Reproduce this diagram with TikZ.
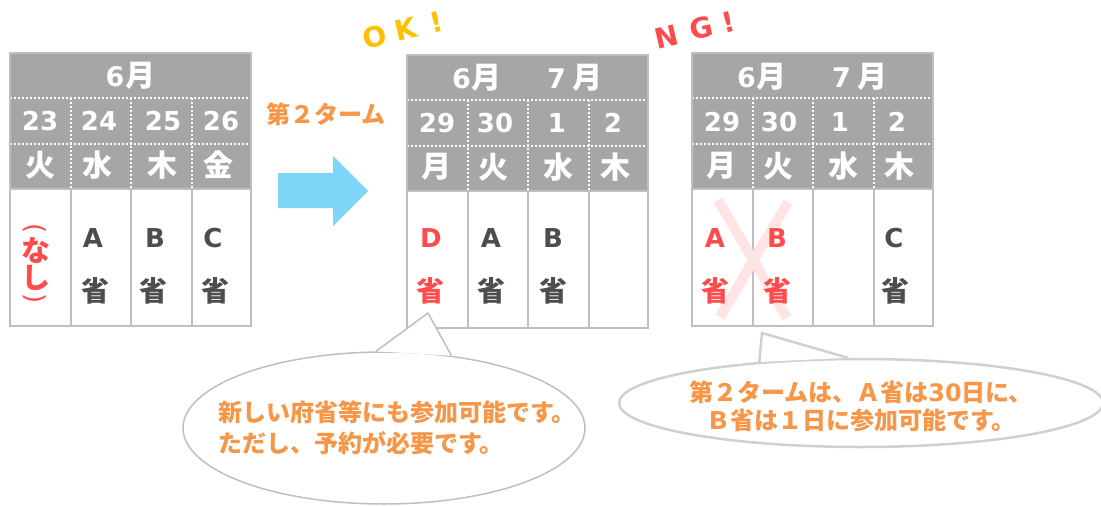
\documentclass[tikz,border=0pt]{standalone}
\usepackage{fontspec}
\setmainfont{DejaVu Sans}
\newfontfamily\jpfam{Noto Sans CJK JP}
\newfontfamily\latfam{DejaVu Sans}
\newcommand\jpf[1]{\jpfam\bfseries\fontsize{#1}{#1}\selectfont}
\newcommand\latf[1]{\latfam\bfseries\fontsize{#1}{#1}\selectfont}
\usetikzlibrary{shapes.geometric}
\definecolor{hdgray}{HTML}{A6A6A6}
\definecolor{gridgray}{HTML}{BFBFBF}
\definecolor{txtdark}{HTML}{4D4D4D}
\definecolor{redc}{HTML}{FF4B4B}
\definecolor{orangec}{HTML}{F79646}
\definecolor{yellowc}{HTML}{FFC000}
\definecolor{arrowblue}{HTML}{7DD6F6}
\definecolor{xpink}{HTML}{FFE4E4}
\definecolor{call2gray}{HTML}{D0D0D0}
\tikzset{
  wdot/.style={draw=white, line width=1.5pt, dash pattern=on 2pt off 2pt},
  gridline/.style={draw=gridgray, line width=2pt},
  hdnum/.style={text=white, font=\latf{26}, inner sep=0pt},
  hdjp/.style={text=white, font=\jpf{30}, inner sep=0pt},
  bodylat/.style={text=txtdark, font=\latf{26}, inner sep=0pt},
  bodyjp/.style={text=txtdark, font=\jpf{28}, inner sep=0pt},
  redt/.style={text=redc},
  calltxt/.style={text=orangec, font=\jpf{24}, inner sep=0pt},
  callshape/.style={ellipse, draw=gridgray, fill=white, line width=1.5pt, inner sep=0pt},
  paren/.style={text=redc, font=\latfam\fontsize{26}{26}\selectfont, inner sep=0pt, rotate=-90},
  shout/.style={font=\latf{28}, rotate=13, inner sep=0pt},
}
\newcommand\caltable[2]{%
  \begin{scope}[shift={(#1,#2)}]
    \fill[hdgray] (0,0) rectangle (241,136);
    \fill[white] (0,136) rectangle (241,273);
    \draw[wdot] (0,45) -- (241,45);
    \draw[wdot] (0,91) -- (241,91);
    \foreach \xx in {61,121,182} {
      \draw[wdot] (\xx,45) -- (\xx,136);
      \draw[gridline] (\xx,136) -- (\xx,273);
    }
    \draw[gridline] (0,136) -- (241,136);
    \draw[gridline] (0,0) rectangle (241,273);
  \end{scope}}
\begin{document}
\begin{tikzpicture}[x=1pt, y=-1pt]
\fill[white] (0,0) rectangle (1101,506);
\useasboundingbox (0,0) rectangle (1101,506);

% ---------- tables ----------
\caltable{10}{53}
\caltable{407}{55}
\caltable{692}{53}

% X mark
\draw[xpink, line width=10pt] (718,200) -- (787,318);
\draw[xpink, line width=10pt] (788,202) -- (720,317);

% ---------- left table texts ----------
\node[hdjp] (L-m) at (130.5,76) {{\latf{27}6}\hspace{1pt}月};
\node[hdnum] (L-d1) at (40,121) {23};
\node[hdnum] (L-d2) at (99,121) {24};
\node[hdnum] (L-d3) at (163,121) {25};
\node[hdnum] (L-d4) at (221,121) {26};
\node[hdjp] (L-w1) at (40,165) {火};
\node[hdjp] (L-w2) at (97,165) {水};
\node[hdjp] (L-w3) at (162,165) {木};
\node[hdjp] (L-w4) at (218,165) {金};
\node[paren] (L-n1) at (35,229) {(};
\node[bodyjp, font=\jpf{29}, redt] (L-n2) at (36,251) {な};
\node[bodyjp, font=\jpf{29}, redt] (L-n3) at (36,278) {し};
\node[paren] (L-n4) at (35,299) {)};
\node[bodylat] (L-a1) at (93,238) {A};
\node[bodyjp] (L-a2) at (95,291) {省};
\node[bodylat] (L-b1) at (155,238) {B};
\node[bodyjp] (L-b2) at (153,291) {省};
\node[bodylat] (L-c1) at (213,238) {C};
\node[bodyjp] (L-c2) at (215,291) {省};

% ---------- middle table texts ----------
\node[hdjp] (M-m1) at (477,78) {{\latf{27}6}\hspace{1pt}月};
\node[hdjp] (M-m2) at (575,78) {{\latf{27}7}\hspace{7pt}月};
\node[hdnum] (M-d1) at (437,123) {29};
\node[hdnum] (M-d2) at (495,123) {30};
\node[hdnum] (M-d3) at (557,123) {1};
\node[hdnum] (M-d4) at (613,123) {2};
\node[hdjp] (M-w1) at (436,167) {月};
\node[hdjp] (M-w2) at (493,167) {火};
\node[hdjp] (M-w3) at (558,167) {水};
\node[hdjp] (M-w4) at (615,167) {木};
\node[bodylat, redt] (M-a1) at (431,238) {D};
\node[bodyjp, redt] (M-a2) at (430,291) {省};
\node[bodylat] (M-b1) at (491,238) {A};
\node[bodyjp] (M-b2) at (491,291) {省};
\node[bodylat] (M-c1) at (553,238) {B};
\node[bodyjp] (M-c2) at (553,291) {省};

% ---------- right table texts ----------
\node[hdjp] (R-m1) at (762,77) {{\latf{27}6}\hspace{1pt}月};
\node[hdjp] (R-m2) at (860,77) {{\latf{27}7}\hspace{7pt}月};
\node[hdnum] (R-d1) at (722,122) {29};
\node[hdnum] (R-d2) at (779,122) {30};
\node[hdnum] (R-d3) at (840,122) {1};
\node[hdnum] (R-d4) at (897,122) {2};
\node[hdjp] (R-w1) at (721,166) {月};
\node[hdjp] (R-w2) at (778,166) {火};
\node[hdjp] (R-w3) at (843,166) {水};
\node[hdjp] (R-w4) at (899,166) {木};
\node[bodylat, redt] (R-a1) at (715,238) {A};
\node[bodyjp, redt] (R-a2) at (715,291) {省};
\node[bodylat, redt] (R-b1) at (777,238) {B};
\node[bodyjp, redt] (R-b2) at (777,291) {省};
\node[bodylat] (R-c1) at (894,238) {C};
\node[bodyjp] (R-c2) at (895,291) {省};

% ---------- arrow and labels ----------
\fill[arrowblue] (278,173) -- (333,173) -- (333,156) -- (368,191) -- (333,226) -- (333,208) -- (278,208) -- cycle;
\node[calltxt] (term) at (326,114) {第２ターム};
\node[shout, text=yellowc] (ok) at (403,30) {O\hspace{9pt}K\hspace{15pt}!};
\node[shout, text=redc] (ng) at (695,30) {N\hspace{13pt}G\hspace{10pt}!};

% ---------- callout 1 ----------
\node[callshape, minimum width=402pt, minimum height=152pt] (c1) at (384,428) {};
\coordinate (c1tip) at (428,313);
\fill[white] (c1.96.8) -- (c1tip) -- (c1.47.5) -- cycle;
\draw[gridgray, line width=1.5pt, line join=miter] (c1.96.8) -- (c1tip) -- (c1.47.5);
\node[calltxt, align=left, anchor=west] (c1t) at (218,427.5) {新しい府省等にも参加可能です。\\[7pt]ただし、予約が必要です。};

% ---------- callout 2 ----------
\node[callshape, draw=call2gray, line width=2.5pt, minimum width=484pt, minimum height=88pt] (c2) at (861,403) {};
\coordinate (c2tip) at (762,333);
\fill[white] (c2.158.8) -- (c2tip) -- (c2.106.5) -- cycle;
\draw[call2gray, line width=2.5pt, line join=miter] (c2.158.8) -- (c2tip) -- (c2.106.5);
\node[calltxt, align=center] (c2t) at (861,406) {第２タームは、Ａ省は{\latf{24}30}日に、\\[4pt]Ｂ省は１日に参加可能です。};
\end{tikzpicture}
\end{document}
